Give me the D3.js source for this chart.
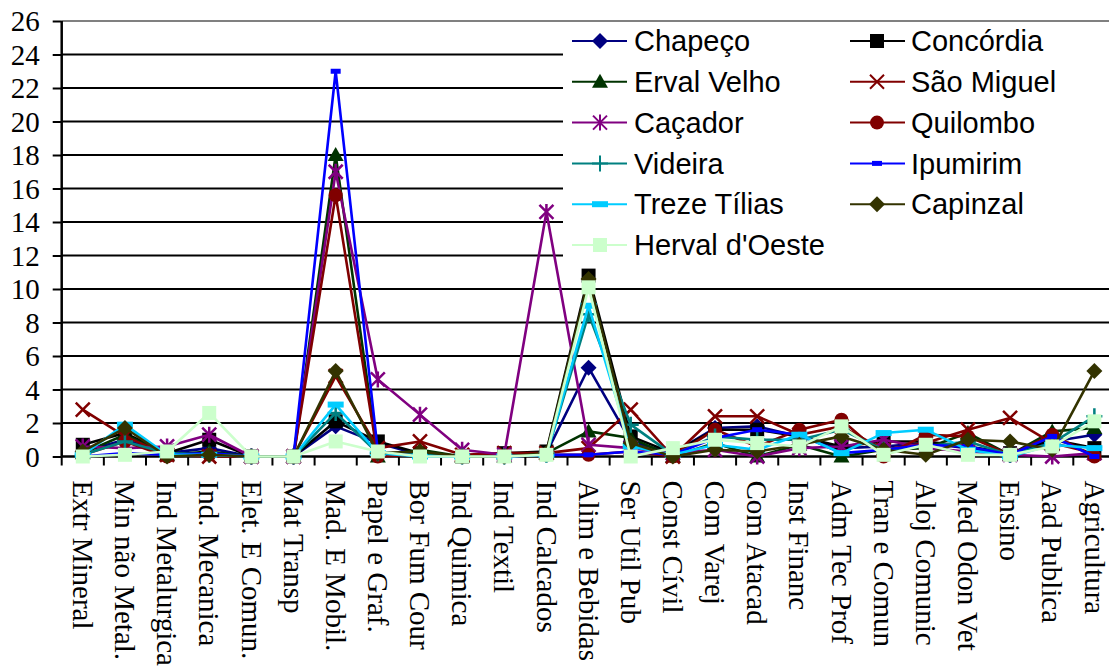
<!DOCTYPE html>
<html>
<head>
<meta charset="utf-8">
<script src="https://cdn.jsdelivr.net/npm/d3@7"></script>
<style>
  body { margin: 0; background: #fff; overflow: hidden; }
  .axis text { font-family: "Liberation Serif", "Times New Roman", serif; }
  .legend text { font-family: "Liberation Sans", Arial, sans-serif; }
</style>
</head>
<body>
<div id="chart"></div>
<script>
// categories on the x axis
const categories = ["Extr Mineral", "Min não Metal.", "Ind Metalurgica", "Ind. Mecanica", "Elet. E Comun.",
  "Mat Transp", "Mad. E Mobil.", "Papel e Graf.", "Bor Fum Cour", "Ind Quimica", "Ind Textil",
  "Ind Calcados", "Alim e Bebidas", "Ser Util Pub", "Const Cívil", "Com Varej", "Com Atacad",
  "Inst Financ", "Adm Tec Prof", "Tran e Comun", "Aloj Comunic", "Med Odon Vet", "Ensino",
  "Aad Publica", "Agricultura"];

const yTicks = [0, 2, 4, 6, 8, 10, 12, 14, 16, 18, 20, 22, 24, 26];

// one list per city
const chapeco     = [0.3, 1.0, 0.2, 0.5, 0, 0, 1.8, 0.8, 0.1, 0, 0, 0.2, 5.3, 0.9, 0.2, 1.7, 1.8, 1.2, 0.5, 0.6, 0.8, 0.5, 0.1, 0.9, 1.3];
const concordia   = [0.7, 1.4, 0.2, 1.0, 0, 0, 2.1, 0.9, 0.2, 0, 0.2, 0.3, 10.8, 1.2, 0.2, 1.6, 1.6, 1.2, 0.6, 0.9, 0.9, 0.6, 0.2, 1.0, 0.5];
const ervalVelho  = [0.2, 1.3, 0.1, 0.3, 0, 0, 18.0, 0.0, 0.4, 0, 0, 0.2, 1.5, 1.1, 0.0, 0.8, 0.0, 0.7, 0.0, 0.4, 0.5, 1.4, 0.1, 1.5, 1.7];
const saoMiguel   = [2.8, 1.2, 0.1, 0.0, 0, 0, 4.8, 0.5, 0.9, 0.1, 0.2, 0.2, 0.5, 2.8, 0.0, 2.4, 2.4, 1.3, 1.8, 0.4, 0.8, 1.6, 2.3, 0.8, 0.2];
const cacador     = [0.6, 0.5, 0.6, 1.3, 0, 0, 17.0, 4.6, 2.5, 0.4, 0.1, 14.6, 0.7, 0.5, 0.2, 0.4, 0.0, 0.5, 0.6, 1.0, 0.5, 0.3, 0.1, 0.0, 0.2];
const quilombo    = [0.1, 0.9, 0.0, 0.1, 0, 0, 15.6, 0.0, 0.1, 0, 0, 0.1, 0.1, 0.3, 0.0, 1.6, 0.6, 1.6, 2.2, 0.0, 1.3, 1.2, 0.1, 1.3, 0.0];
const videira     = [0.1, 0.9, 0.2, 0.1, 0, 0, 2.6, 0.2, 0.1, 0, 0, 0.1, 8.5, 1.9, 0.1, 1.2, 1.0, 1.0, 1.6, 0.4, 0.6, 0.9, 0.1, 0.8, 2.4];
const ipumirim    = [0.0, 0.2, 0.1, 0.2, 0, 0, 23.0, 0.3, 0.0, 0, 0, 0.1, 0.1, 0.3, 0.1, 1.1, 1.6, 1.3, 0.2, 0.4, 0.7, 0.6, 0.1, 1.2, 0.0];
const trezeTilias = [0.1, 1.9, 0.1, 0.1, 0, 0, 3.1, 0.2, 0.0, 0, 0, 0.1, 9.0, 0.6, 0.1, 0.7, 0.4, 1.3, 0.2, 1.4, 1.6, 0.4, 0.0, 0.7, 0.5];
const capinzal    = [0.3, 1.7, 0.0, 0.1, 0, 0, 5.1, 0.2, 0.3, 0, 0, 0.2, 10.6, 0.8, 0.0, 0.4, 0.3, 0.7, 1.2, 0.4, 0.1, 1.0, 0.9, 0.4, 5.1];
const hervalOeste = [0.0, 0.1, 0.3, 2.6, 0.0, 0.0, 0.9, 0.3, 0.0, 0.0, 0.0, 0.1, 10.1, 0.0, 0.5, 1.0, 0.8, 0.6, 1.8, 0.1, 0.7, 0.1, 0.1, 0.6, 2.1];

const seriesNames = ["Chapeço", "Concórdia", "Erval Velho", "São Miguel", "Caçador", "Quilombo",
  "Videira", "Ipumirim", "Treze Tílias", "Capinzal", "Herval d'Oeste"];
const seriesValues = [chapeco, concordia, ervalVelho, saoMiguel, cacador, quilombo,
  videira, ipumirim, trezeTilias, capinzal, hervalOeste];

// look of each series
const colors  = ["#000080", "#000000", "#003300", "#800000", "#800080", "#800000",
  "#008080", "#0000ff", "#00ccff", "#333300", "#ccffcc"];
const markers = ["diamond", "square", "triangle", "x", "asterisk", "circle",
  "plus", "dash", "bar", "diamond", "square"];

const W = 1109, H = 669;
const plot = {left: 61.7, top: 21, bottom: 456.5, right: 61.7 + 25 * 42.15};

const svg = d3.select("#chart").append("svg")
    .attr("width", W)
    .attr("height", H);

const x = d3.scaleBand().domain(categories).range([plot.left, plot.right]).padding(0);
const y = d3.scaleLinear().domain([0, 26]).range([plot.bottom, plot.top]);

// gridlines
svg.append("g")
    .selectAll("line")
    .data(yTicks.slice(1))
    .enter()
    .append("line")
      .attr("x1", plot.left).attr("x2", plot.right)
      .attr("y1", d => y(d)).attr("y2", d => y(d))
      .attr("stroke", d => d === 26 ? "#808080" : "#000")
      .attr("stroke-width", 2);

// y axis
const yAxis = svg.append("g")
    .attr("class", "axis")
    .attr("transform", "translate(" + plot.left + ",0)")
    .call(d3.axisLeft(y).tickValues(yTicks).tickSize(9).tickPadding(13));
yAxis.select(".domain").attr("stroke-width", 2.5).attr("d", "M0," + y(26) + "V" + y(0));
yAxis.selectAll(".tick line").attr("stroke-width", 2);
yAxis.selectAll(".tick text")
    .attr("font-size", 29)
    .attr("fill", "#000")
    .attr("dy", "0.34em");

// x axis line, ticks sit on the band edges
const xAxis = svg.append("g").attr("class", "axis");
xAxis.append("line")
    .attr("x1", plot.left).attr("x2", plot.right)
    .attr("y1", y(0)).attr("y2", y(0))
    .attr("stroke", "#000").attr("stroke-width", 2.5);
xAxis.selectAll(".xtick")
    .data(categories.concat([null]))
    .enter()
    .append("line")
      .attr("class", "xtick")
      .attr("x1", d => d === null ? plot.right : x(d))
      .attr("x2", d => d === null ? plot.right : x(d))
      .attr("y1", y(0)).attr("y2", y(0) + 9)
      .attr("stroke", "#000").attr("stroke-width", 2);
xAxis.selectAll(".xlabel")
    .data(categories)
    .enter()
    .append("text")
      .attr("class", "xlabel")
      .attr("transform", d => "translate(" + (x(d) + x.bandwidth() / 2) + "," + (y(0) + 24) + ")rotate(90)")
      .attr("dy", "0.34em")
      .attr("text-anchor", "start")
      .attr("font-size", 29)
      .text(d => d);

// marker shapes
function markerPath(type) {
  const s = 7;
  switch (type) {
    case "diamond":  return "M0," + (-s - 1) + "L" + (s + 1) + ",0L0," + (s + 1) + "L" + (-s - 1) + ",0Z";
    case "square":   return "M" + -s + "," + -s + "h" + 2 * s + "v" + 2 * s + "h" + -2 * s + "Z";
    case "triangle": return "M0," + (-s - 1) + "L" + (s + 1) + "," + (s - 1) + "L" + (-s - 1) + "," + (s - 1) + "Z";
    case "circle":   return "M" + -s + ",0a" + s + "," + s + " 0 1,0 " + 2 * s + ",0a" + s + "," + s + " 0 1,0 " + -2 * s + ",0Z";
    case "x":        return "M" + -s + "," + -s + "L" + s + "," + s + "M" + s + "," + -s + "L" + -s + "," + s;
    case "asterisk": return "M" + -s + "," + -s + "L" + s + "," + s + "M" + s + "," + -s + "L" + -s + "," + s + "M0," + (-s - 1) + "L0," + (s + 1);
    case "plus":     return "M" + (-s - 1) + ",0L" + (s + 1) + ",0M0," + (-s - 1) + "L0," + (s + 1);
    case "dash":     return "M-5,-2.5h10v5h-10Z";
    case "bar":      return "M-8,-3h16v6h-16Z";
  }
}
const stroked = {x: true, asterisk: true, plus: true};

const line = d3.line()
    .x((d, i) => x(categories[i]) + x.bandwidth() / 2)
    .y(d => y(d));

// draw each series, line then markers
seriesValues.forEach(function(vals, si) {
  const g = svg.append("g");
  g.append("path")
      .datum(vals)
      .attr("fill", "none")
      .attr("stroke", colors[si])
      .attr("stroke-width", 2.6)
      .attr("stroke-linejoin", "round")
      .attr("d", line);
  g.selectAll("path.mk")
      .data(vals)
      .enter()
      .append("path")
        .attr("class", "mk")
        .attr("transform", (d, i) => "translate(" + (x(categories[i]) + x.bandwidth() / 2) + "," + y(d) + ")")
        .attr("d", markerPath(markers[si]))
        .attr("fill", stroked[markers[si]] ? "none" : colors[si])
        .attr("stroke", stroked[markers[si]] ? colors[si] : "none")
        .attr("stroke-width", 2.5);
});

// legend
const legend = svg.append("g").attr("class", "legend");
legend.append("rect")
    .attr("x", 563).attr("y", 22)
    .attr("width", W - 563).attr("height", 244)
    .attr("fill", "#fff");

const legendCols = [{line: 572, mark: 600, text: 634}, {line: 850, mark: 877, text: 911}];
seriesNames.forEach(function(name, i) {
  const c = legendCols[i % 2];
  const ly = 41 + Math.floor(i / 2) * 40.8;
  legend.append("line")
      .attr("x1", c.line).attr("x2", c.line + 55)
      .attr("y1", ly).attr("y2", ly)
      .attr("stroke", colors[i]).attr("stroke-width", 2);
  legend.append("path")
      .attr("transform", "translate(" + c.mark + "," + ly + ")")
      .attr("d", markerPath(markers[i]))
      .attr("fill", stroked[markers[i]] ? "none" : colors[i])
      .attr("stroke", stroked[markers[i]] ? colors[i] : "none")
      .attr("stroke-width", 2);
  legend.append("text")
      .attr("x", c.text).attr("y", ly)
      .attr("dy", "0.35em")
      .attr("font-size", 29)
      .text(name);
});
</script>
</body>
</html>
